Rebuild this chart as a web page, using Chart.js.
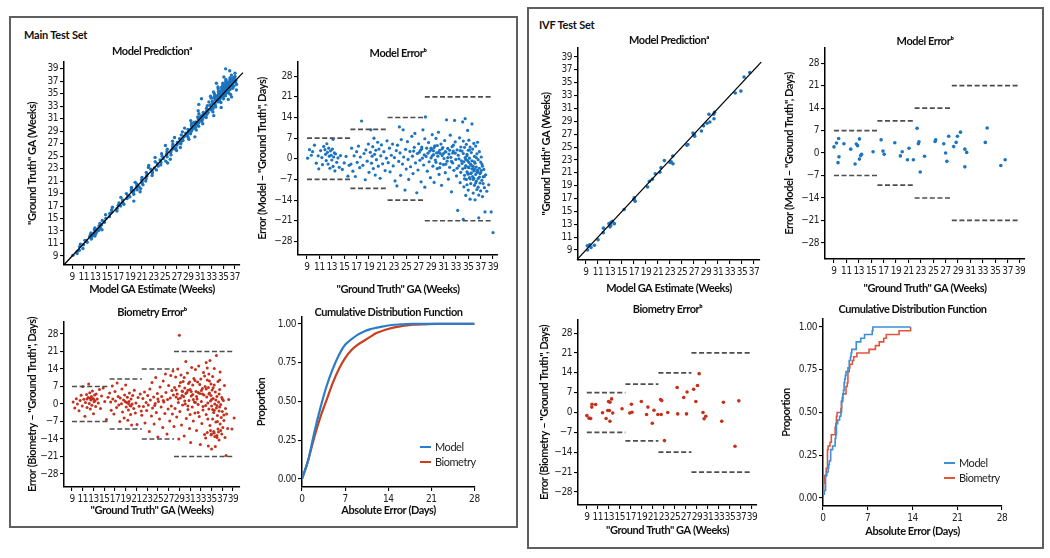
<!DOCTYPE html>
<html lang="en">
<head>
<meta charset="utf-8">
<title>Gestational age estimation - test sets</title>
<script src="https://cdn.jsdelivr.net/npm/chart.js@4.4.1/dist/chart.umd.min.js"></script>
<style>
  body { margin: 0; background: #fff; }
  #page { position: relative; width: 1050px; height: 558px; overflow: hidden; background: #fff; }
  .panel { position: absolute; border: 2px solid #5f5f5f; box-sizing: border-box; }
  .panel-title { position: absolute; font: bold 11px Lato, "Open Sans", sans-serif; color: #111; white-space: nowrap; line-height: 13px; letter-spacing: -0.2px; }
  canvas { position: absolute; }
</style>
</head>
<body>
<div id="page">
  <div class="panel" style="left:9px; top:16px; width:509px; height:512px"></div>
  <div class="panel" style="left:527px; top:7px; width:517px; height:542px"></div>
  <div class="panel-title" style="left:24px; top:28px">Main Test Set</div>
  <div class="panel-title" style="left:539px; top:18px">IVF Test Set</div>
  <canvas id="mainPred"></canvas>
  <canvas id="mainErr"></canvas>
  <canvas id="mainBio"></canvas>
  <canvas id="mainCdf"></canvas>
  <canvas id="ivfPred"></canvas>
  <canvas id="ivfErr"></canvas>
  <canvas id="ivfBio"></canvas>
  <canvas id="ivfCdf"></canvas>
</div>
<script>
/** GA estimation figure : main test set (left) and IVF test set (right) */

// ---------- data ----------

// tick labels
const gaTicksPred = [ 9, 11, 13, 15, 17, 19, 21, 23, 25, 27, 29, 31, 33, 35, 37 ]
const gaTicksTruth = [ 9, 11, 13, 15, 17, 19, 21, 23, 25, 27, 29, 31, 33, 35, 37, 39 ]
const gaTicksPredY = [ 9, 11, 13, 15, 17, 19, 21, 23, 25, 27, 29, 31, 33, 35, 37, 39 ]
const errTicks = [ -28, -21, -14, -7, 0, 7, 14, 21, 28 ]
const propTicks = [ 0, 0.25, 0.5, 0.75, 1 ]
const dayTicks = [ 0, 7, 14, 21, 28 ]

// acceptable error (days) for each GA band (weeks) : dashed lines
const limitBreaks = [ 9, 16, 22, 28, 39 ]
const limitValues = [ 7, 10, 14, 21 ]

// main test set, model : [ "ground truth" GA (weeks), error (days) ]
const mainModelErr = [
    [9.1,0.2],[9.4,3.1],[9.7,1.2],[9.9,2.4],[10.2,4.6],[10.5,-1.5],[10.8,1.0],[10.9,-3.4],[11.2,2.8],[11.4,0.4],
    [11.5,-2.0],[11.7,4.2],[11.9,3.1],[12.0,1.5],[12.1,-0.6],[12.2,5.1],[12.3,2.2],[12.4,-1.8],[12.5,3.6],[12.6,0.9],
    [12.7,-3.2],[12.8,2.7],[12.9,1.2],[13.0,-0.4],[13.1,3.3],[13.2,-2.6],[13.2,6.6],[13.3,0.6],[13.4,2.0],[13.5,-4.1],
    [13.6,1.7],[13.8,-1.2],[14.0,0.3],[14.2,-2.9],[14.4,1.1],[14.7,-3.6],[15.0,-1.4],[15.3,0.8],[15.6,-5.9],[15.8,-2.2],
    [16.1,-1.8],[16.2,3.6],[16.4,-4.2],[16.6,1.0],[16.8,-6.0],[17.0,2.4],[17.1,-1.2],[17.3,4.3],[17.5,-3.0],[17.6,0.6],
    [17.8,12.8],[18.0,-2.2],[18.2,1.8],[18.4,-7.1],[18.5,3.0],[18.7,-0.8],[18.9,5.0],[19.0,-4.6],[19.2,2.2],[19.3,9.8],
    [19.4,-1.5],[19.5,0.9],[19.6,4.1],[19.7,-3.3],[19.8,7.0],[19.9,1.5],[20.0,-5.5],[20.1,2.9],[20.2,-0.3],[20.4,5.6],
    [20.5,-2.5],[20.6,3.3],[20.8,-6.6],[20.9,1.0],[21.0,4.7],[21.2,-1.7],[21.4,2.4],[21.6,-4.0],[21.8,0.2],[21.9,6.1],
    [22.1,-1.3],[22.3,3.6],[22.4,-4.4],[22.6,1.2],[22.8,5.0],[22.9,-2.4],[23.1,0.4],[23.2,-7.5],[23.4,2.8],[23.5,-9.2],
    [23.6,4.6],[23.8,-0.9],[23.9,10.8],[24.0,2.0],[24.1,-5.6],[24.2,6.5],[24.4,-1.8],[24.5,9.8],[24.6,0.6],[24.8,-10.6],
    [24.9,3.2],[25.0,-3.5],[25.2,5.8],[25.3,-0.2],[25.4,-7.0],[25.6,2.5],[25.7,-2.7],[25.9,7.6],[26.0,0.9],[26.1,-5.0],
    [26.2,2.6],[26.3,3.9],[26.4,8.6],[26.5,-1.4],[26.7,-11.5],[26.8,1.8],[26.9,-3.8],[27.0,5.1],[27.1,2.2],[27.2,-0.5],
    [27.3,2.9],[27.4,-7.8],[27.5,4.0],[27.5,3.4],[27.6,0.2],[27.7,9.8],[27.8,-2.1],[27.9,1.3],[28.0,6.8],[28.0,-9.6],
    [28.1,14.2],[28.2,0.8],[28.3,3.6],[28.4,-4.2],[28.5,1.9],[28.6,5.5],[28.7,-1.0],[28.8,2.6],[28.9,-6.4],[29.0,0.3],
    [29.0,3.6],[29.1,3.1],[29.2,8.2],[29.2,1.0],[29.3,-2.5],[29.4,1.4],[29.4,2.7],[29.5,-8.0],[29.5,3.8],[29.6,4.4],
    [29.7,-0.4],[29.8,6.9],[29.8,-1.2],[29.9,2.0],[30.0,-3.3],[30.0,4.5],[30.1,0.9],[30.2,9.0],[30.2,2.2],[30.3,-5.3],
    [30.4,2.9],[30.4,-3.0],[30.5,-1.6],[30.5,1.8],[30.6,5.0],[30.7,-9.0],[30.8,1.1],[30.8,3.4],[30.9,3.8],[31.0,-2.0],
    [31.0,1.8],[31.1,0.1],[31.2,6.2],[31.3,-4.7],[31.3,2.4],[31.4,2.3],[31.4,-1.8],[31.5,13.2],[31.6,-0.8],[31.7,3.5],
    [31.7,0.4],[31.8,-6.9],[31.9,1.6],[32.0,-2.9],[32.0,2.9],[32.1,8.0],[32.2,0.5],[32.3,-11.2],[32.3,-0.9],[32.4,4.1],
    [32.5,-1.4],[32.5,2.0],[32.6,2.6],[32.6,4.6],[32.7,-3.9],[32.8,13.0],[32.9,5.7],[32.9,1.9],[33.0,-0.2],[33.1,-5.8],
    [33.2,3.0],[33.2,-3.2],[33.3,-17.5],[33.4,1.2],[33.5,-2.4],[33.5,0.0],[33.6,7.1],[33.7,-8.1],[33.7,2.8],[33.8,4.0],
    [33.8,-4.6],[33.9,-0.7],[34.0,2.6],[34.0,-1.6],[34.1,-3.4],[34.1,12.5],[34.2,-20.5],[34.2,6.0],[34.2,1.8],[34.3,-1.0],
    [34.3,-9.5],[34.4,3.9],[34.4,-5.6],[34.4,-6.8],[34.5,0.4],[34.5,13.6],[34.5,-3.0],[34.6,-2.3],[34.6,-12.4],[34.6,-0.2],
    [34.7,4.9],[34.7,-7.0],[34.8,1.5],[34.8,-4.4],[34.8,1.0],[34.8,-8.8],[34.9,9.6],[34.9,-0.6],[34.9,-4.8],[35.0,-10.6],
    [35.0,2.9],[35.0,-5.2],[35.0,-2.8],[35.1,-3.0],[35.1,6.3],[35.1,-1.2],[35.2,-6.4],[35.2,0.2],[35.2,3.0],[35.3,-13.7],
    [35.3,4.0],[35.3,-6.8],[35.4,-1.9],[35.4,-8.4],[35.4,-5.0],[35.5,2.1],[35.5,-4.8],[35.5,-2.2],[35.6,11.8],[35.6,-0.7],
    [35.6,-3.4],[35.7,-6.0],[35.7,3.3],[35.8,-11.6],[35.8,-2.6],[35.8,-7.0],[35.9,5.2],[35.9,-4.1],[35.9,-6.6],[36.0,-9.0],
    [36.0,0.8],[36.0,-3.5],[36.0,-1.0],[36.1,-1.5],[36.1,-13.9],[36.2,4.3],[36.2,-5.3],[36.2,-8.2],[36.3,-2.8],[36.3,-7.6],
    [36.3,0.4],[36.4,1.7],[36.4,-10.4],[36.4,-4.2],[36.5,-3.9],[36.5,5.6],[36.5,-4.6],[36.6,-6.7],[36.6,-0.3],[36.6,-9.6],
    [36.7,-20.0],[36.7,-12.3],[36.8,-3.2],[36.8,2.4],[36.8,-6.2],[36.9,-8.2],[36.9,-5.0],[37.0,-1.1],[37.0,-10.9],[37.0,-4.6],
    [37.1,-4.0],[37.1,0.6],[37.2,-7.3],[37.2,-1.8],[37.3,-2.5],[37.3,-12.8],[37.4,-6.1],[37.4,-8.4],[37.5,-3.6],[37.6,-9.8],
    [37.6,-6.0],[37.7,-18.0],[37.8,-5.4],[38.0,-11.0],[38.3,-8.8],[38.7,-18.0],[39.0,-25.0]
]

// main test set, biometry : [ "ground truth" GA (weeks), error (days) ]
const mainBioErr = [
    [9.2,0.8],[9.5,-1.6],[9.8,2.1],[10.0,0.0],[10.3,-2.7],[10.5,1.4],[10.7,3.5],[10.9,-0.8],[11.0,7.0],[11.2,1.9],
    [11.4,-4.9],[11.5,0.6],[11.7,3.8],[11.8,-1.4],[11.8,2.0],[12.0,2.6],[12.1,8.0],[12.2,0.2],[12.3,4.5],[12.4,-2.0],
    [12.4,2.3],[12.5,1.6],[12.6,3.0],[12.7,-0.5],[12.8,5.2],[12.9,2.2],[13.0,-3.9],[13.0,1.9],[13.1,0.9],[13.2,3.6],
    [13.3,1.3],[13.4,-1.0],[13.5,4.0],[13.7,2.0],[13.9,0.4],[14.1,5.8],[14.3,-1.8],[14.5,3.2],[14.8,6.4],[15.1,1.0],
    [15.4,-6.2],[15.7,2.7],
    [16.0,4.4],[16.2,0.8],[16.3,-2.5],[16.5,7.2],[16.6,2.0],[16.8,-4.0],[17.0,5.0],[17.1,1.2],[17.3,-1.4],[17.4,8.4],
    [17.6,3.0],[17.7,-0.4],[17.9,-7.0],[18.0,2.4],[18.2,0.1],[18.3,6.0],[18.4,-3.2],[18.6,1.6],[18.7,-5.6],[18.8,3.6],
    [18.9,1.0],[19.0,7.6],[19.1,-1.2],[19.2,0.6],[19.3,2.7],[19.4,-6.5],[19.5,-2.4],[19.5,0.2],[19.6,1.0],[19.7,4.4],
    [19.8,-0.6],[19.9,-4.2],[20.0,2.0],[20.0,-0.8],[20.1,-8.4],[20.2,0.0],[20.3,3.4],[20.5,-1.8],[20.6,5.5],[20.8,-3.6],
    [20.9,0.4],[21.1,-8.2],[21.3,2.6],[21.5,-0.9],[21.7,4.0],[21.9,-2.8],
    [22.0,-4.5],[22.2,2.2],[22.3,-1.0],[22.5,4.8],[22.6,-7.6],[22.8,0.6],[22.9,-2.6],[23.1,3.4],[23.2,-0.4],[23.4,-11.0],
    [23.5,6.0],[23.6,1.6],[23.8,-4.8],[23.9,8.6],[24.0,-1.6],[24.2,2.8],[24.3,-8.0],[24.4,-0.6],[24.5,0.2],[24.6,10.6],
    [24.7,-3.4],[24.9,4.2],[25.0,-13.2],[25.0,2.0],[25.1,1.0],[25.3,-6.0],[25.4,6.8],[25.6,-1.2],[25.7,3.0],[25.9,-9.4],
    [26.0,9.2],[26.0,1.4],[26.1,0.8],[26.3,-3.8],[26.4,12.0],[26.5,4.6],[26.7,-12.0],[26.8,1.8],[26.9,-2.0],[27.0,7.4],
    [27.2,-6.8],[27.3,2.4],[27.4,11.4],[27.5,-0.8],[27.6,5.4],[27.7,-4.0],[27.8,13.2],[27.9,3.6],[28.0,-9.0],
    [28.1,6.6],[28.2,-1.8],[28.3,10.8],[28.4,2.8],[28.4,5.6],[28.5,-5.2],[28.6,4.0],[28.7,14.0],[28.8,0.6],[28.8,2.0],
    [28.9,-14.0],[29.0,27.5],[29.0,7.2],[29.1,-3.0],[29.2,2.4],[29.2,8.6],[29.3,11.6],[29.4,-8.4],[29.5,5.2],[29.5,3.4],
    [29.6,-0.4],[29.6,5.0],[29.7,9.0],[29.8,3.0],[29.9,-12.8],[29.9,10.6],[30.0,6.4],[30.0,1.2],[30.1,0.0],[30.2,17.0],
    [30.2,4.2],[30.3,-5.8],[30.4,4.6],[30.5,12.4],[30.6,-2.2],[30.6,5.5],[30.6,-0.8],[30.7,8.2],[30.8,1.4],[30.9,-9.8],
    [30.9,8.8],[31.0,5.8],[31.0,-4.2],[31.1,-15.4],[31.2,3.2],[31.2,5.0],[31.3,14.6],[31.4,-1.2],[31.5,7.6],[31.5,3.8],
    [31.6,-6.8],[31.6,1.8],[31.7,10.2],[31.8,0.8],[31.9,-3.6],[31.9,9.4],[32.0,13.8],[32.0,0.6],[32.1,5.0],[32.2,-10.6],
    [32.2,3.0],[32.3,2.0],[32.4,8.8],[32.5,-0.2],[32.5,4.6],[32.5,-3.4],[32.6,15.2],[32.7,-5.0],[32.8,4.2],[32.8,7.8],
    [32.9,-16.2],[33.0,10.0],[33.1,1.0],[33.1,5.4],[33.2,-7.8],[33.3,6.2],[33.3,4.0],[33.4,-2.4],[33.4,-1.0],[33.5,12.6],
    [33.6,3.6],[33.7,-12.2],[33.7,11.2],[33.8,7.0],[33.9,-0.6],[33.9,-13.6],
    [34.0,16.6],[34.0,-4.2],[34.0,6.0],[34.1,2.8],[34.2,9.6],[34.2,-11.4],[34.2,14.4],[34.3,0.4],[34.3,-6.0],[34.4,6.6],
    [34.4,-16.8],[34.5,-2.0],[34.5,12.0],[34.5,4.0],[34.6,4.4],[34.6,9.2],[34.7,-8.6],[34.7,17.4],[34.8,1.2],[34.8,-10.6],
    [34.9,-12.4],[34.9,8.0],[34.9,3.4],[35.0,-18.0],[35.0,-0.8],[35.0,1.8],[35.0,-12.0],[35.1,5.6],[35.2,-6.0],[35.2,11.0],
    [35.2,-2.2],[35.3,2.2],[35.3,6.5],[35.4,-11.0],[35.4,-3.4],[35.5,7.6],[35.5,-2.5],[35.5,14.2],[35.5,-11.6],[35.6,-13.0],
    [35.6,0.0],[35.7,-17.0],[35.7,4.8],[35.8,-7.2],[35.8,1.6],[35.9,19.4],[35.9,-1.6],[36.0,-12.6],[36.0,3.0],[36.0,-0.6],
    [36.0,-13.4],[36.1,-4.6],[36.1,-7.0],[36.2,9.0],[36.2,-10.0],[36.3,0.8],[36.3,-11.2],[36.4,-14.4],[36.4,-2.8],[36.4,4.0],
    [36.5,5.8],[36.5,-1.2],[36.5,9.6],[36.6,-8.0],[36.6,12.8],[36.7,-0.2],[36.7,-10.6],[36.8,-5.4],[36.9,-12.0],[36.9,2.6],
    [37.0,-3.0],[37.0,2.0],[37.1,-9.4],[37.2,1.4],[37.3,-6.6],[37.3,-4.4],[37.4,7.4],[37.5,-13.4],[37.6,-1.8],[37.7,-20.6],
    [37.8,-4.0],[38.0,-9.8],[38.2,1.8],[38.8,-10.0],[39.2,-5.6]
]

// IVF test set : [ "ground truth" GA (weeks), error (days) ]
const ivfModelErr = [
    [9.0,1.9],[9.4,3.1],[9.65,-3.0],[9.75,4.5],[9.8,-1.2],[10.6,2.9],[11.7,1.2],[12.4,-3.4],[12.6,2.8],[12.8,2.3],
    [13.1,4.4],[13.1,-1.9],[13.3,-0.8],[13.45,-0.4],[15.3,0.4],[16.6,4.1],[16.9,0.6],[17.1,-0.4],[18.8,3.2],[19.7,-0.9],
    [20.0,0.4],[20.85,-2.1],[21.1,1.5],[21.8,-2.1],[22.4,7.7],[22.6,2.9],[22.7,3.5],[22.9,-5.9],[23.6,-1.0],[25.3,3.6],
    [25.4,4.1],[26.7,2.9],[27.0,0.0],[27.2,-2.6],[27.5,5.2],[28.3,2.0],[28.7,3.3],[28.9,5.2],[29.4,6.5],[30.1,-4.3],
    [30.1,1.2],[30.4,0.2],[33.4,3.3],[33.7,7.8],[35.9,-3.9],[36.6,-2.1]
]
const ivfBioErr = [
    [9.0,-1.1],[9.4,-2.0],[9.7,-2.1],[9.9,1.9],[9.95,2.9],[10.6,2.8],[11.85,-0.1],[12.5,-2.1],[12.8,0.7],[12.95,3.9],
    [13.1,0.7],[13.2,-3.1],[13.2,3.6],[13.5,4.8],[13.7,-0.2],[15.4,1.3],[16.8,-0.2],[17.1,2.9],[17.2,0.1],[18.9,3.9],
    [19.85,-0.7],[20.1,1.9],[20.9,-3.8],[21.2,0.8],[21.9,-0.7],[22.4,4.6],[22.5,-0.7],[22.6,4.2],[23.1,-9.9],[23.7,0.0],
    [25.4,8.8],[25.5,-0.5],[26.6,5.3],[27.1,-0.5],[27.2,7.2],[28.4,8.2],[28.8,3.9],[29.1,9.5],[29.4,13.7],[30.1,0.0],
    [30.3,-2.2],[30.6,-1.3],[33.5,-3.1],[33.8,3.6],[35.9,-11.9],[36.6,4.1]
]

// main test set CDF of absolute error
const cdfDays = [ 0, 1, 2, 3, 4, 5, 6, 7, 8, 9, 10, 11, 12, 13, 14, 15, 16, 17, 18, 20, 22, 24, 26, 28 ]
const mainModelCdf = [ 0, 0.12, 0.30, 0.46, 0.60, 0.71, 0.80, 0.866, 0.90, 0.93, 0.95, 0.965, 0.975, 0.983, 0.99, 0.995, 0.997, 0.999, 1, 1, 1, 1, 1, 1 ]
const mainBioCdf = [ 0, 0.12, 0.27, 0.40, 0.51, 0.62, 0.71, 0.78, 0.83, 0.865, 0.89, 0.915, 0.94, 0.955, 0.968, 0.978, 0.985, 0.99, 0.995, 0.998, 1, 1, 1, 1 ]


// ---------- styles ----------

const FONT_TICK = "'Liberation Sans Narrow', 'DejaVu Sans Condensed', 'Roboto Condensed', Lato, sans-serif"
const FONT_TITLE = "Lato, 'Open Sans', sans-serif"
const BLUE = '#1c74bf'
const RED = '#c4301c'
const LIMIT_GREY = '#4d4d4d'

const TITLE_GA_TRUTH = '"Ground Truth" GA (Weeks)'

/** canvas box [left, top, width, height] and forced axis sizes, so the plot areas sit where they do in the figure */
const layout = {
    mainPred: { box: [ 22, 45, 228, 253 ], yBox: 42, xBox: 33, titlePad: 3.8 },
    mainErr: { box: [ 252, 47, 256, 251 ], yBox: 46, xBox: 43, titlePad: 1.8 },
    mainBio: { box: [ 22, 306, 228, 213 ], yBox: 42, xBox: 32, titlePad: 2.8 },
    mainCdf: { box: [ 251, 306, 234, 213 ], yBox: 51, xBox: 32, titlePad: -2.2 },
    ivfPred: { box: [ 536, 34, 234, 263 ], yBox: 42, xBox: 37, titlePad: 0.8 },
    ivfErr: { box: [ 779, 35, 256, 262 ], yBox: 46, xBox: 38, titlePad: -0.2 },
    ivfBio: { box: [ 534, 303, 233, 236 ], yBox: 44, xBox: 34, titlePad: 3.8 },
    ivfCdf: { box: [ 776, 303, 236, 237 ], yBox: 47, xBox: 34, titlePad: 2.8 }
}


// ---------- helpers ----------

const fmtInt = v => v < 0 ? '\u2212' + Math.abs( v ) : String( v )
const fmtProp = v => v.toFixed( 2 )

/** scatter points from [x, y] pairs */
function pointsSet( pairs, color, radius ) {
    return {
        data: pairs.map( p => ( { x: p[ 0 ], y: p[ 1 ] } ) ),
        pointRadius: radius,
        pointBackgroundColor: color,
        pointBorderWidth: 0,
        showLine: false
    }
}

/** model prediction : x = estimate (truth + error in weeks), y = truth */
function predictionSet( pairs, color, radius ) {
    let set = pointsSet( pairs, color, radius )
    set.data = pairs.map( p => ( { x: p[ 0 ] + p[ 1 ] / 7, y: p[ 0 ] } ) )
    return set
}

function identitySet( lo, hi ) {
    return {
        data: [ { x: lo, y: lo }, { x: hi, y: hi } ],
        showLine: true, pointRadius: 0, borderColor: '#000', borderWidth: 1.3, clip: false
    }
}

/** dashed +/- limit segments, one per GA band */
function limitSets() {
    let sets = []
    limitValues.forEach( ( v, i ) => {
        [ v, -v ].forEach( y => {
            sets.push( {
                data: [ { x: limitBreaks[ i ], y: y }, { x: limitBreaks[ i + 1 ], y: y } ],
                showLine: true, pointRadius: 0, borderColor: LIMIT_GREY, borderWidth: 1.7, borderDash: [ 5, 2.6 ]
            } )
        } )
    } )
    return sets
}

function curveSet( label, xs, ys, color, width ) {
    return {
        label: label,
        data: xs.map( ( x, i ) => ( { x: x, y: ys[ i ] } ) ),
        showLine: true, pointRadius: 0, borderColor: color, borderWidth: width,
        cubicInterpolationMode: 'monotone'
    }
}

/** empirical CDF of absolute errors, drawn as steps */
function ecdfSet( label, pairs, xEnd, color ) {
    const abs = pairs.map( p => Math.abs( p[ 1 ] ) ).sort( ( a, b ) => a - b )
    let pts = [ { x: 0, y: 0 } ]
    abs.forEach( ( v, i ) => pts.push( { x: v, y: ( i + 1 ) / abs.length } ) )
    pts.push( { x: xEnd, y: 1 } )
    return {
        label: label, data: pts, showLine: true, stepped: true,
        pointRadius: 0, borderColor: color, borderWidth: 1.6
    }
}

/** tighter text, the figure uses a condensed face */
const condensedText = {
    id: 'condensedText',
    beforeDraw( chart ) {
        if ( 'letterSpacing' in chart.ctx ) chart.ctx.letterSpacing = '-0.45px'
    }
}

/** small legend inside the plot, bottom right */
const cornerLegend = {
    id: 'cornerLegend',
    afterDatasetsDraw( chart, args, opts ) {
        if ( !opts || !opts.show ) return
        const ctx = chart.ctx
        const area = chart.chartArea
        ctx.save()
        chart.data.datasets.forEach( ( ds, i ) => {
            const x = area.right - opts.dx
            const y = area.bottom - opts.dy + i * opts.gap
            ctx.strokeStyle = ds.borderColor
            ctx.lineWidth = 2
            ctx.beginPath()
            ctx.moveTo( x, y )
            ctx.lineTo( x + 11, y )
            ctx.stroke()
            ctx.fillStyle = '#222'
            ctx.font = '11px ' + FONT_TITLE
            ctx.textBaseline = 'middle'
            ctx.fillText( ds.label, x + 15, y )
        } )
        ctx.restore()
    }
}

function axis( horizontal, spec, boxSize ) {
    return {
        type: 'linear',
        min: spec.min,
        max: spec.max,
        afterBuildTicks: scale => { scale.ticks = spec.ticks.map( v => ( { value: v } ) ) },
        afterFit: scale => {
            if ( horizontal ) scale.height = boxSize
            else scale.width = boxSize
        },
        ticks: {
            autoSkip: false, maxRotation: 0, minRotation: 0, padding: 2, color: '#222',
            font: { family: FONT_TICK, size: 10 },
            callback: spec.fmt
        },
        grid: { drawOnChartArea: false, drawTicks: true, tickLength: 4, color: '#000', lineWidth: 1.1 },
        border: { display: true, color: '#000', width: 1.5 },
        title: {
            display: true, text: spec.title, color: '#111',
            font: { family: FONT_TITLE, size: 11, weight: 'bold', lineHeight: 1.2 },
            padding: horizontal ? { top: 0, bottom: 2 } : { top: 4, bottom: 0 }
        }
    }
}

function buildChart( id, spec ) {
    const geo = layout[ id ]
    const cv = document.getElementById( id )
    cv.width = geo.box[ 2 ]
    cv.height = geo.box[ 3 ]
    cv.style.left = geo.box[ 0 ] + 'px'
    cv.style.top = geo.box[ 1 ] + 'px'

    return new Chart( cv, {
        type: 'scatter',
        data: { datasets: spec.datasets },
        options: {
            responsive: false,
            animation: false,
            events: [],
            layout: { padding: { left: 0, top: 0, bottom: 0, right: 10 } },
            plugins: {
                legend: { display: false },
                tooltip: { enabled: false },
                title: {
                    display: true, text: spec.title, fullSize: false, color: '#111',
                    font: { family: FONT_TITLE, size: 11, weight: 'bold', lineHeight: 1.2 },
                    padding: { top: 0, bottom: geo.titlePad }
                },
                cornerLegend: spec.legend || { show: false }
            },
            scales: {
                x: axis( true, spec.x, geo.xBox ),
                y: axis( false, spec.y, geo.yBox )
            }
        },
        plugins: [ condensedText, cornerLegend ]
    } )
}


// ---------- main test set ----------

buildChart( 'mainPred', {
    title: 'Model Prediction\u1d43',
    datasets: [ identitySet( 7.6, 38.4 ), predictionSet( mainModelErr, BLUE, 1.7 ) ],
    x: { min: 7.6, max: 37.9, ticks: gaTicksPred, fmt: fmtInt, title: 'Model GA Estimate (Weeks)' },
    y: { min: 7.55, max: 40.1, ticks: gaTicksPredY, fmt: fmtInt, title: TITLE_GA_TRUTH }
} )

buildChart( 'mainErr', {
    title: 'Model Error\u1d47',
    datasets: limitSets().concat( [ pointsSet( mainModelErr, BLUE, 1.6 ) ] ),
    x: { min: 7.55, max: 39.8, ticks: gaTicksTruth, fmt: fmtInt, title: TITLE_GA_TRUTH },
    y: { min: -32.6, max: 32.8, ticks: errTicks, fmt: fmtInt, title: 'Error (Model \u2013 "Ground Truth", Days)' }
} )

buildChart( 'mainBio', {
    title: 'Biometry Error\u1d47',
    datasets: limitSets().concat( [ pointsSet( mainBioErr, RED, 1.5 ) ] ),
    x: { min: 7.5, max: 40.3, ticks: gaTicksTruth, fmt: fmtInt, title: TITLE_GA_TRUTH },
    y: { min: -33.2, max: 32.8, ticks: errTicks, fmt: fmtInt, title: 'Error (Biometry \u2013 "Ground Truth", Days)' }
} )

buildChart( 'mainCdf', {
    title: 'Cumulative Distribution Function',
    datasets: [
        curveSet( 'Model', cdfDays, mainModelCdf, '#2a7dc9', 2.2 ),
        curveSet( 'Biometry', cdfDays, mainBioCdf, '#c9401f', 2.2 )
    ],
    x: { min: 0, max: 28.1, ticks: dayTicks, fmt: fmtInt, title: 'Absolute Error (Days)' },
    y: { min: -0.052, max: 1.045, ticks: propTicks, fmt: fmtProp, title: 'Proportion' },
    legend: { show: true, dx: 55, dy: 40, gap: 15 }
} )


// ---------- IVF test set ----------

buildChart( 'ivfPred', {
    title: 'Model Prediction\u1d43',
    datasets: [ identitySet( 7.5, 38.2 ), predictionSet( ivfModelErr, BLUE, 1.8 ) ],
    x: { min: 7.67, max: 38.0, ticks: gaTicksPred, fmt: fmtInt, title: 'Model GA Estimate (Weeks)' },
    y: { min: 7.45, max: 40.4, ticks: gaTicksPredY, fmt: fmtInt, title: TITLE_GA_TRUTH }
} )

buildChart( 'ivfErr', {
    title: 'Model Error\u1d47',
    datasets: limitSets().concat( [ pointsSet( ivfModelErr, BLUE, 1.8 ) ] ),
    x: { min: 7.55, max: 39.8, ticks: gaTicksTruth, fmt: fmtInt, title: TITLE_GA_TRUTH },
    y: { min: -33, max: 32.7, ticks: errTicks, fmt: fmtInt, title: 'Error (Model \u2013 "Ground Truth", Days)' }
} )

buildChart( 'ivfBio', {
    title: 'Biometry Error\u1d47',
    datasets: limitSets().concat( [ pointsSet( ivfBioErr, RED, 1.8 ) ] ),
    x: { min: 7.4, max: 39.9, ticks: gaTicksTruth, fmt: fmtInt, title: TITLE_GA_TRUTH },
    y: { min: -32.6, max: 32.6, ticks: errTicks, fmt: fmtInt, title: 'Error (Biometry \u2013 "Ground Truth", Days)' }
} )

const ivfEnd = Math.max( ...ivfModelErr.concat( ivfBioErr ).map( p => Math.abs( p[ 1 ] ) ) )

buildChart( 'ivfCdf', {
    title: 'Cumulative Distribution Function',
    datasets: [
        ecdfSet( 'Model', ivfModelErr, ivfEnd, '#3d8fd6' ),
        ecdfSet( 'Biometry', ivfBioErr, ivfEnd, '#e0563c' )
    ],
    x: { min: 0, max: 28, ticks: dayTicks, fmt: fmtInt, title: 'Absolute Error (Days)' },
    y: { min: -0.047, max: 1.047, ticks: propTicks, fmt: fmtProp, title: 'Proportion' },
    legend: { show: true, dx: 58, dy: 43, gap: 15 }
} )
</script>
</body>
</html>
